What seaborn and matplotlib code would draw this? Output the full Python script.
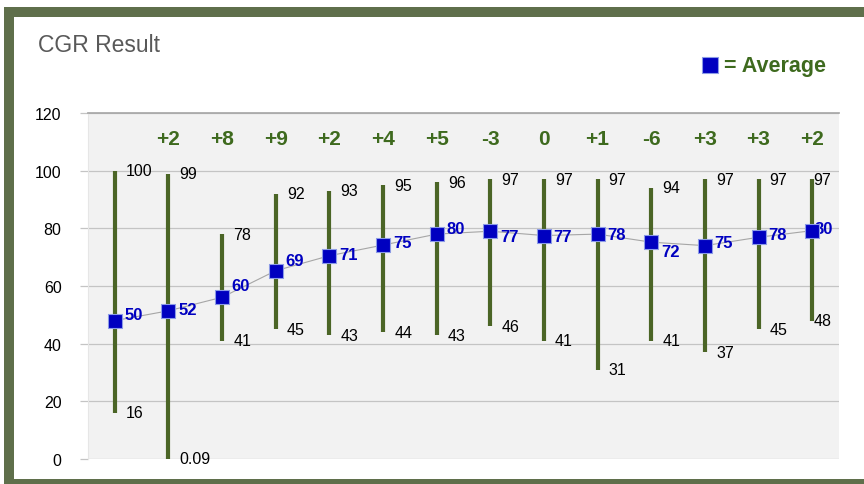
import matplotlib
matplotlib.use("Agg")
import matplotlib.pyplot as plt
from matplotlib.lines import Line2D
from matplotlib.patches import Rectangle
import pandas as pd
import seaborn as sns

# data
rounds = list(range(1, 15))
avg_values = [48.0, 51.4, 56.1, 65.3, 70.5, 74.2, 78.0, 79.0, 77.5, 78.0, 75.2, 74.0, 76.9, 79.2]
avg_labels = [50, 52, 60, 69, 71, 75, 80, 77, 77, 78, 72, 75, 78, 80]
max_values = [100, 99, 78, 92, 93, 95, 96, 97, 97, 97, 94, 97, 97, 97]
min_values = [16, 0.09, 41, 45, 43, 44, 43, 46, 41, 31, 41, 37, 45, 48]
deltas = ["+2", "+8", "+9", "+2", "+4", "+5", "-3", "0", "+1", "-6", "+3", "+3", "+2"]
y_ticks = [0, 20, 40, 60, 80, 100, 120]

BAR_GREEN = "#4B6526"
TEXT_GREEN = "#3E6A1E"
FRAME_GREEN = "#5F6F4B"
BLUE = "#0000C0"

df = pd.DataFrame({
    "pos": range(len(rounds)),
    "round": rounds,
    "avg": avg_values,
    "avg_label": avg_labels,
    "max": max_values,
    "min": min_values,
})

sns.set_theme(style="whitegrid")
plt.rcParams["font.family"] = ["Liberation Sans", "DejaVu Sans"]

fig = plt.figure(figsize=(8.64, 4.85), dpi=100)
ax = fig.add_axes([88 / 864, 25 / 485, (839 - 88) / 864, (460 - 114) / 485])
ax.set_facecolor("#F2F2F2")

# min-max ranges
ax.vlines(df["pos"], df["min"], df["max"], color=BAR_GREEN, lw=3.0, zorder=2)

# average line + markers
sns.lineplot(data=df, x="pos", y="avg", color="#A6A6A6", lw=0.8, ax=ax, zorder=3)
sns.scatterplot(data=df, x="pos", y="avg", marker="s", s=105, color=BLUE,
                edgecolor="#8C9BE6", linewidth=0.8, ax=ax, zorder=5)

last = len(df) - 1
for _, r in df.iterrows():
    i = int(r["pos"])
    dx = 1 if i == last else 8
    ax.annotate(f"{r['max']:g}", (i, r["max"]), xytext=(dx, 0), textcoords="offset points",
                ha="left", va="center", fontsize=11.5, color="black", zorder=6)
    ax.annotate(f"{r['min']:g}", (i, r["min"]), xytext=(dx, 0), textcoords="offset points",
                ha="left", va="center", fontsize=11.5, color="black", zorder=6)
    ax.annotate(f"{int(r['avg_label'])}", (i, r["avg_label"]),
                xytext=(1.5 if i == last else 7, 0), textcoords="offset points",
                ha="left", va="center", fontsize=12, fontweight="bold",
                color=BLUE, zorder=4)

for i, d in enumerate(deltas, start=1):
    ax.text(i, 111, d, ha="center", va="center", fontsize=15, fontweight="bold",
            color=TEXT_GREEN)

ax.set_xlim(-0.5, 13.5)
ax.set_ylim(0, 120)
ax.set_yticks(y_ticks)
ax.set_xticks([])
ax.set_xlabel("")
ax.set_ylabel("")
ax.grid(axis="y", color="#C4C4C4", lw=0.9)
ax.grid(axis="x", visible=False)
for s in ["top", "right", "bottom"]:
    ax.spines[s].set_visible(False)
ax.spines["left"].set_color("#E6E6E6")
ax.spines["left"].set_linewidth(0.8)
ax.spines["top"].set_visible(True)
ax.spines["top"].set_color("#A8A8A8")
ax.tick_params(axis="y", length=6, width=0.9, color="#C4C4C4", pad=13,
               labelsize=11.5, labelcolor="black", left=True)

# title and legend
fig.text(38 / 864, 1 - 46 / 485, "CGR Result", fontsize=16.5, color="#595959",
         ha="left", va="center")
fig.add_artist(Line2D([710 / 864], [1 - 66 / 485], marker="s", markersize=11,
                      color=BLUE, markeredgecolor="#8C9BE6", markeredgewidth=0.8,
                      transform=fig.transFigure))
fig.text(724 / 864, 1 - 67 / 485, "= Average", fontsize=15.5, fontweight="bold",
         color=TEXT_GREEN, ha="left", va="center")

# green frame around the chart
fig.add_artist(Rectangle((9 / 864, 0), 1.2, 1 - 13 / 485, transform=fig.transFigure,
                         fill=False, edgecolor=FRAME_GREEN, lw=7.2, clip_on=False))

fig.savefig("out.png", dpi=100)
